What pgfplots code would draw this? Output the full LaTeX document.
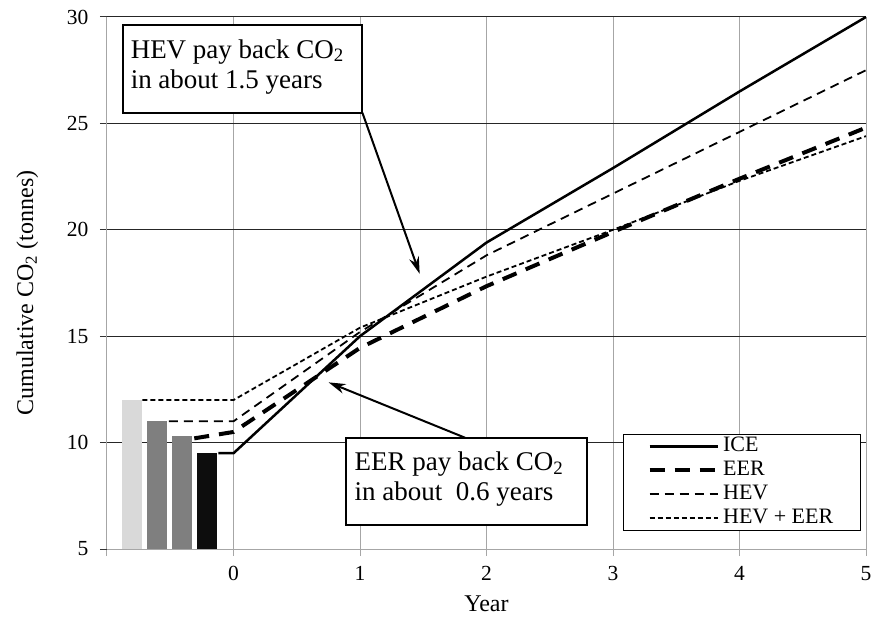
\documentclass[border=0pt]{standalone}
\usepackage{pgfplots}
\pgfplotsset{compat=1.18}
\usepackage{fontspec}
\setmainfont{Liberation Serif}
\usetikzlibrary{arrows.meta}
\definecolor{barA}{HTML}{D9D9D9}
\definecolor{barB}{HTML}{7F7F7F}
\definecolor{barC}{HTML}{0D0D0D}
\definecolor{gridg}{HTML}{A6A6A6}
\newcommand{\tf}{\fontsize{21.5}{24}\selectfont}
\newcommand{\lf}{\fontsize{22}{24}\selectfont}
\newcommand{\af}{\fontsize{27}{30}\selectfont}
\begin{document}
\begin{tikzpicture}
\begin{axis}[
  scale only axis, width=759pt, height=532pt,
  xmin=-1, xmax=5, ymin=5, ymax=30,
  axis lines*=left,
  axis line style={draw=gridg, line width=1pt},
  xtick={-1,0,1,2,3,4,5}, xticklabels={,0,1,2,3,4,5},
  ytick={5,10,...,30},
  tick align=outside, major tick length=7pt,
  xtick style={draw=gridg, line width=1pt},
  ytick style={draw=black!80, line width=1pt},
  xmajorgrids, ymajorgrids,
  x grid style={gridg, line width=1pt},
  y grid style={black!85, line width=1pt},
  /pgf/number format/assume math mode=true,
  tick label style={font=\tf},
  yticklabel style={xshift=-8pt},
  xticklabel style={yshift=-7pt},
  xlabel={Year}, ylabel={Cumulative CO\textsubscript{2} (tonnes)},
  label style={font=\fontsize{24}{28}\selectfont},
  xlabel style={at={(axis description cs:0.5,-0.1184)}, anchor=base},
  ylabel style={at={(axis description cs:-0.105,0.481)}, anchor=center},
  legend style={at={(axis cs:3.08,10.41)}, anchor=north west, draw=black, line width=1pt, fill=white,
    font=\lf, inner xsep=24pt, inner ysep=0pt, row sep=0pt,
    nodes={inner xsep=3.5pt, inner ysep=1pt, text height=16pt, text depth=6pt}},
  legend cell align=left,
  legend image code/.code={\draw[#1] (0pt,0pt) -- (68pt,0pt);},
]
\addplot[ybar, bar width=0.158, bar shift=0pt, fill=barA, draw=none, forget plot] coordinates {(-0.806,12)};
\addplot[ybar, bar width=0.158, bar shift=0pt, fill=barB, draw=none, forget plot] coordinates {(-0.604,11)};
\addplot[ybar, bar width=0.158, bar shift=0pt, fill=barB, draw=none, forget plot] coordinates {(-0.404,10.3)};
\addplot[ybar, bar width=0.158, bar shift=0pt, fill=barC, draw=none, forget plot] coordinates {(-0.206,9.5)};

\addplot[black, line width=2.5pt] coordinates {(-0.12,9.5)(0,9.5)(1,15.0)(2,19.4)(3,22.9)(4,26.5)(5,30)};
\addlegendentry{ICE}
\addplot[black, line width=4pt, dash pattern=on 15pt off 10pt] coordinates {(-0.31,10.2)(0,10.5)(1,14.45)(2,17.35)(3,19.9)(4,22.4)(5,24.8)};
\addlegendentry{EER}
\addplot[black, line width=1.8pt, dash pattern=on 9pt off 6pt] coordinates {(-0.51,11)(0,11)(1,15.2)(2,18.8)(3,21.7)(4,24.6)(5,27.5)};
\addlegendentry{HEV}
\addplot[black, line width=1.8pt, dash pattern=on 5pt off 3pt] coordinates {(-0.72,12)(0,12)(1,15.4)(2,17.8)(3,20.0)(4,22.3)(5,24.4)};
\addlegendentry{HEV + EER}

\draw[line width=2pt, fill=white] (axis cs:-0.877,25.5) rectangle (axis cs:1.019,29.62);
\node[anchor=north west, align=left, font=\af, inner xsep=8pt, inner ysep=14pt] at (axis cs:-0.877,29.62)
  {HEV pay back CO\textsubscript{2}\\in about 1.5 years};
\draw[line width=2pt, -{Stealth[length=17pt,width=10pt]}] (axis cs:1.019,25.5) -- (axis cs:1.472,17.93);

\draw[line width=2pt, fill=white] (axis cs:0.893,6.13) rectangle (axis cs:2.796,10.23);
\node[anchor=north west, align=left, font=\af, inner xsep=8pt, inner ysep=14pt] at (axis cs:0.893,10.23)
  {EER pay back CO\textsubscript{2}\\in about\ \ 0.6 years};
\draw[line width=2pt, -{Stealth[length=17pt,width=10pt]}] (axis cs:1.83,10.23) -- (axis cs:0.752,12.83);
\end{axis}
\pgfresetboundingbox
\path[use as bounding box] ([shift={(-107pt,-67pt)}]current axis.south west) rectangle ([shift={(7pt,17pt)}]current axis.north east);
\end{tikzpicture}
\end{document}
